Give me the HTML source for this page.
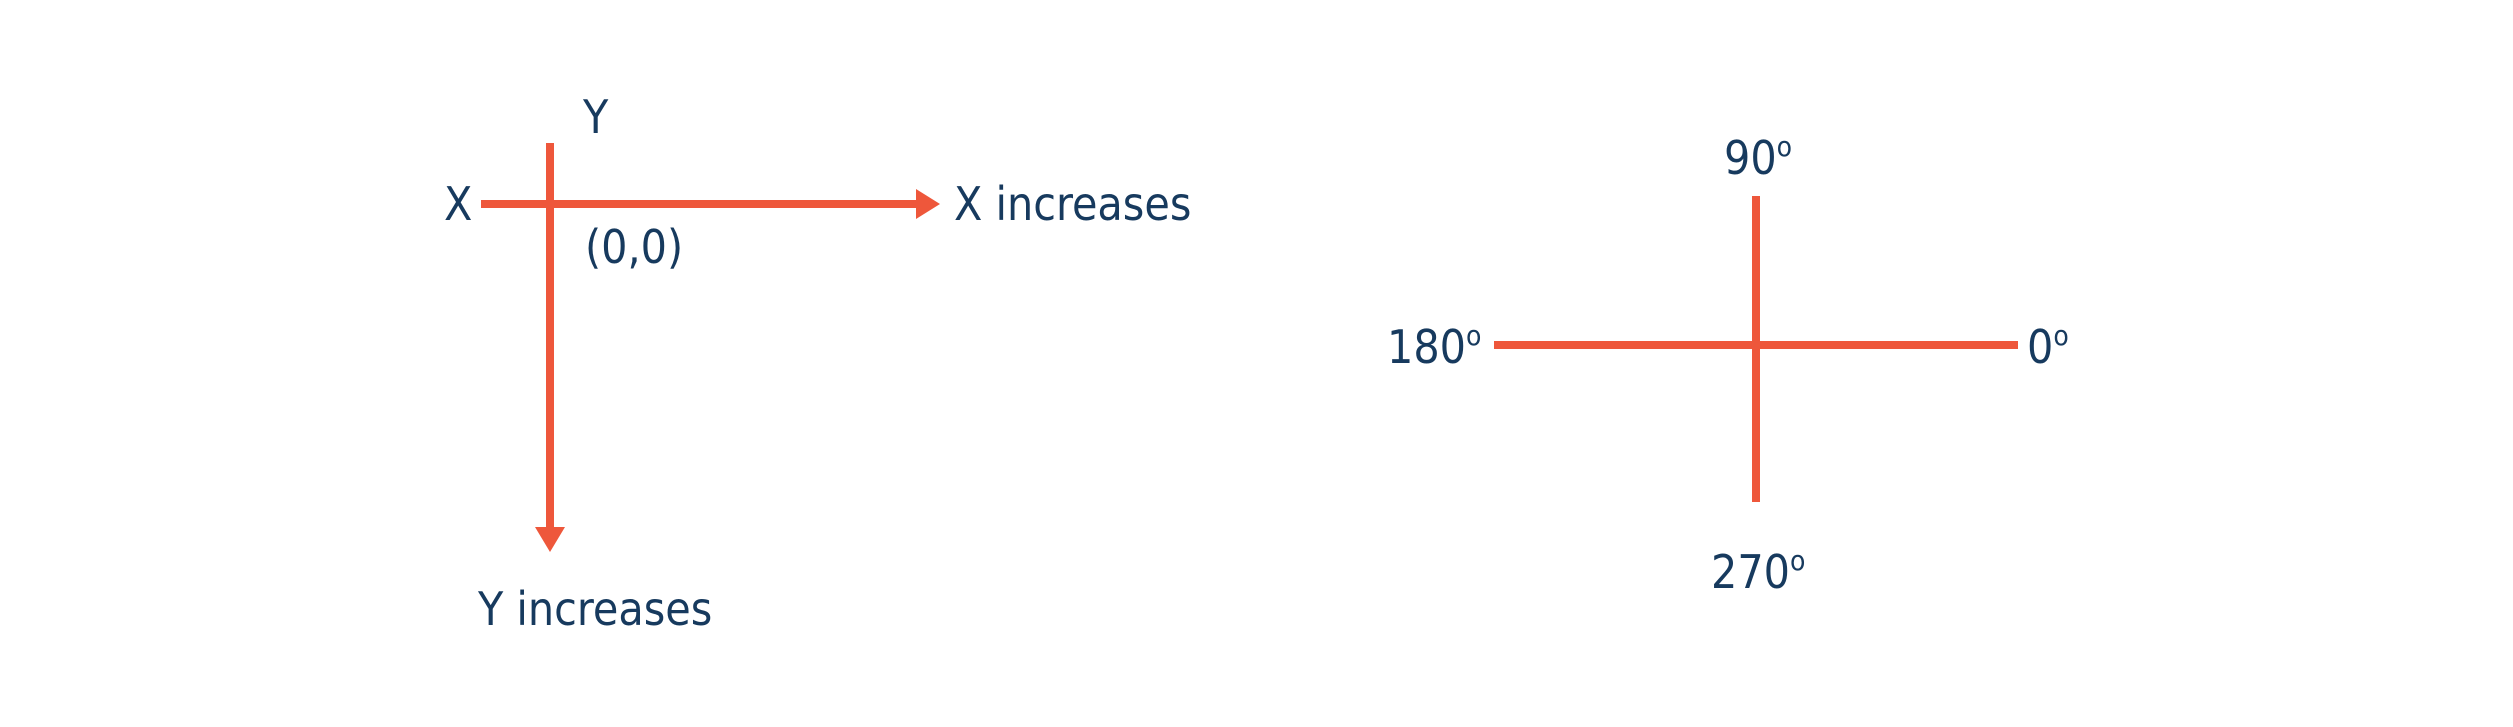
<!DOCTYPE html>
<html><head><meta charset="utf-8"><style>
html,body{margin:0;padding:0;background:#fff}
svg{display:block}
text{font-family:"DejaVu Sans Condensed","DejaVu Sans","Liberation Sans",sans-serif;fill:#173a5e;font-size:46px}
</style></head><body>
<svg width="2513" height="727" viewBox="0 0 2513 727">
<g>
<line x1="550" y1="143" x2="550" y2="530" stroke="#ee573b" stroke-width="8"/>
<polygon points="535,527 565,527 550,552" fill="#ee573b"/>
<line x1="481" y1="204" x2="918" y2="204" stroke="#ee573b" stroke-width="8"/>
<polygon points="916,189 916,219 940,204" fill="#ee573b"/>
<text x="583" y="133">Y</text>
<text x="444" y="220">X</text>
<text x="954" y="220">X increases</text>
<text x="585" y="263" font-size="54">(0,0)</text>
<text x="478" y="625">Y increases</text>
</g>
<g>
<line x1="1756" y1="196" x2="1756" y2="502" stroke="#ee573b" stroke-width="8"/>
<line x1="1494" y1="345" x2="2018" y2="345" stroke="#ee573b" stroke-width="8"/>
<text x="1724" y="174">90<tspan font-size="28" dy="-18">o</tspan></text>
<text x="1387" y="363">180<tspan font-size="28" dy="-18">o</tspan></text>
<text x="2027" y="363">0<tspan font-size="28" dy="-18">o</tspan></text>
<text x="1711" y="588">270<tspan font-size="28" dy="-18">o</tspan></text>
</g>
</svg>
</body></html>
